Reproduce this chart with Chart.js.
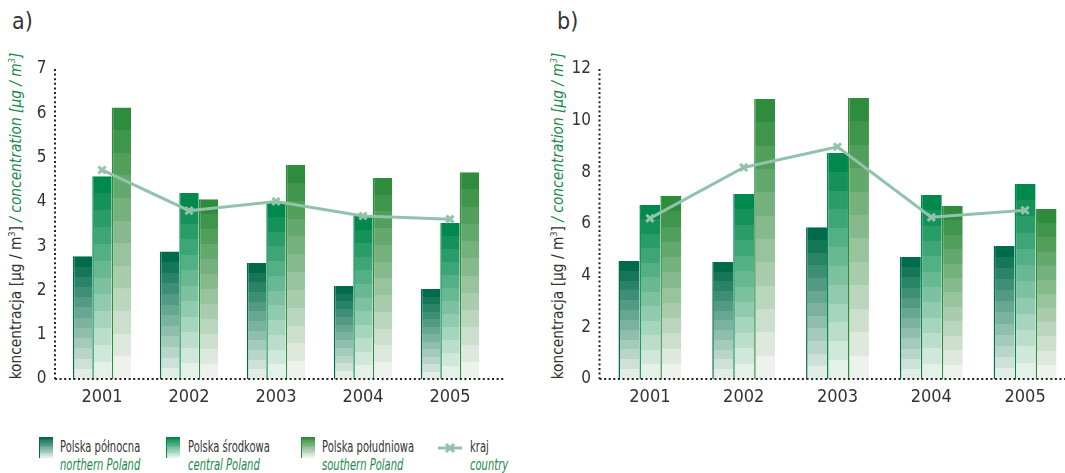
<!DOCTYPE html>
<html>
<head>
<meta charset="utf-8">
<script src="https://cdn.jsdelivr.net/npm/chart.js@4.4.0/dist/chart.umd.min.js"></script>
<style>
  html, body { margin: 0; padding: 0; background: #fff; overflow: hidden; }
  body { width: 1065px; height: 473px; position: relative;
         font-family: 'DejaVu Sans Condensed', 'Liberation Sans', sans-serif; color: #333; }
  canvas { position: absolute; top: 0; }
  #chartA { left: 0; }
  #chartB { left: 540px; }
  .panel { position: absolute; top: 8px; font-size: 23px; color: #333; }
  .ytitle { position: absolute; width: 360px; text-align: center; font-size: 15px; white-space: nowrap;
            transform: translate(-50%, -50%) rotate(-90deg) scaleX(1.02); }
  .ytitle i { color: #1a8a4a; }
  .leg { position: absolute; top: 438px; font-size: 15px; line-height: 18px; white-space: nowrap;
         transform: scaleX(0.74); transform-origin: left top; }
  .leg i { color: #1a8a4a; display: block; }
  .sw { position: absolute; top: 437px; width: 13px; height: 21px; border-left: 1.5px solid; }
</style>
</head>
<body>
<div class="panel" style="left:12px">a)</div>
<div class="panel" style="left:557px">b)</div>
<div class="ytitle" style="left:16px; top:216px">koncentracja [µg / m<sup style="font-size:9px">3</sup>] <i>/ concentration [µg / m<sup style="font-size:9px">3</sup>]</i></div>
<div class="ytitle" style="left:558px; top:216px">koncentracja [µg / m<sup style="font-size:9px">3</sup>] <i>/ concentration [µg / m<sup style="font-size:9px">3</sup>]</i></div>

<canvas id="chartA" width="530" height="420"></canvas>
<canvas id="chartB" width="540" height="420"></canvas>

<div class="sw" id="sw0" style="left:39px"></div>
<div class="leg" style="left:60px">Polska północna<i>northern Poland</i></div>
<div class="sw" id="sw1" style="left:166px"></div>
<div class="leg" style="left:188px">Polska środkowa<i>central Poland</i></div>
<div class="sw" id="sw2" style="left:301px"></div>
<div class="leg" style="left:322px">Polska południowa<i>southern Poland</i></div>
<canvas id="legLine" width="26" height="14" style="left:437px; top:441px"></canvas>
<div class="leg" style="left:470px">kraj<i>country</i></div>

<script>
// ---- data ----
const years = ['2001', '2002', '2003', '2004', '2005'];
const seriesNames = ['Polska północna', 'Polska środkowa', 'Polska południowa', 'kraj'];

// a) values
const northA = [2.77, 2.88, 2.62, 2.10, 2.03];
const centralA = [4.58, 4.20, 3.99, 3.68, 3.52];
const southA = [6.13, 4.06, 4.83, 4.54, 4.67];
const countryA = [4.72, 3.80, 4.01, 3.68, 3.61];

// b) values
const northB = [4.57, 4.53, 5.87, 4.72, 5.15];
const centralB = [6.74, 7.16, 8.75, 7.12, 7.55];
const southB = [7.08, 10.84, 10.88, 6.70, 6.58];
const countryB = [6.22, 8.19, 8.99, 6.26, 6.53];

// ---- styles ----
const tops = ['#006b4a', '#00894c', '#2f8c3c'];
const bottoms = ['#e2ede6', '#e4f1e8', '#eef2ec'];
const lineColor = '#93c2ab';
const BANDS = 12;

function hex2rgb(h) { return [1, 3, 5].map(i => parseInt(h.substr(i, 2), 16)); }
function bandColors(top, bottom) {
    const a = hex2rgb(top), b = hex2rgb(bottom);
    const out = [];
    for (let i = 0; i < BANDS; i++) {
        const t = i / (BANDS - 1);
        out.push('rgb(' + a.map((v, k) => Math.round(v + (b[k] - v) * t)).join(',') + ')');
    }
    return out;
}
const bands = tops.map((t, i) => bandColors(t, bottoms[i]));

// stepped gradient for each bar, from its top to the zero line
function barFill(si) {
    return function (ctx) {
        const chart = ctx.chart;
        if (!chart.chartArea || ctx.type !== 'data') return tops[si];
        const y = chart.scales.y;
        const yTop = y.getPixelForValue(ctx.raw);
        const yBot = y.getPixelForValue(0);
        const g = chart.ctx.createLinearGradient(0, yTop, 0, yBot);
        bands[si].forEach((c, i) => {
            g.addColorStop(i / BANDS, c);
            g.addColorStop(Math.min(1, (i + 1) / BANDS - 0.0001), c);
        });
        return g;
    };
}

// dotted axes, drawn a little left of the plot area like in the original
const dotAxes = {
    id: 'dotAxes',
    afterDatasetsDraw(chart, args, opts) {
        const { ctx, chartArea } = chart;
        const x0 = chartArea.left - 3.5;
        ctx.save();
        ctx.strokeStyle = '#222';
        ctx.lineWidth = 2;
        ctx.setLineDash([2, 2.6]);
        ctx.beginPath();
        ctx.moveTo(x0, chartArea.top);
        ctx.lineTo(x0, chartArea.bottom);
        ctx.stroke();
        ctx.beginPath();
        ctx.moveTo(x0, chartArea.bottom);
        ctx.lineTo(chartArea.right + opts.extend, chartArea.bottom);
        ctx.stroke();
        ctx.restore();
    }
};

const FONT = "'DejaVu Sans Condensed', 'Liberation Sans', sans-serif";

function makeChart(id, north, central, south, country, ymax, step, yWidth, padRight, extend) {
    const barDs = [north, central, south].map((d, i) => ({
        type: 'bar',
        label: seriesNames[i],
        data: d,
        backgroundColor: barFill(i),
        borderColor: tops[i],
        borderWidth: { left: 1.5, right: 0, top: 0, bottom: 0 },
        borderSkipped: false,
        categoryPercentage: 0.67,
        barPercentage: 1.0,
        order: 1
    }));
    return new Chart(document.getElementById(id), {
        data: {
            labels: years,
            datasets: barDs.concat([{
                type: 'line',
                label: seriesNames[3],
                data: country,
                borderColor: lineColor,
                borderWidth: 3,
                pointStyle: 'crossRot',
                pointRadius: 5,
                pointBorderWidth: 3,
                pointBorderColor: lineColor,
                pointBackgroundColor: lineColor,
                tension: 0,
                order: 0
            }])
        },
        options: {
            responsive: false,
            devicePixelRatio: 1,
            animation: false,
            layout: { padding: { top: 69, right: padRight, bottom: 0, left: 0 } },
            plugins: { legend: { display: false }, tooltip: { enabled: false }, dotAxes: { extend: extend } },
            scales: {
                x: {
                    grid: { display: false, drawTicks: false },
                    border: { display: false },
                    ticks: { color: '#333', font: { family: FONT, size: 18 }, padding: 8 },
                    afterFit: s => { s.height = 41; }
                },
                y: {
                    min: 0, max: ymax,
                    grid: { display: false, drawTicks: false },
                    border: { display: false },
                    ticks: { stepSize: step, color: '#333', font: { family: FONT, size: 17 }, padding: 12 },
                    afterFit: s => { s.width = yWidth; }
                }
            }
        },
        plugins: [dotAxes]
    });
}

makeChart('chartA', northA, centralA, southA, countryA, 7, 1, 58.5, 36.5, 11.5);
makeChart('chartB', northB, centralB, southB, countryB, 12, 2, 63, 5, 20);

// legend swatches
for (let i = 0; i < 3; i++) {
    const el = document.getElementById('sw' + i);
    const stops = bands[i].map((c, k) => c + ' ' + (k * 100 / BANDS) + '%, ' + c + ' ' + ((k + 1) * 100 / BANDS) + '%');
    el.style.background = 'linear-gradient(to bottom, ' + stops.join(', ') + ')';
    el.style.borderColor = tops[i];
}
const lc = document.getElementById('legLine').getContext('2d');
lc.strokeStyle = lineColor;
lc.lineWidth = 3;
lc.beginPath(); lc.moveTo(1, 7); lc.lineTo(25, 7); lc.stroke();
lc.beginPath(); lc.moveTo(9, 3); lc.lineTo(17, 11); lc.moveTo(17, 3); lc.lineTo(9, 11); lc.stroke();
</script>
</body>
</html>
